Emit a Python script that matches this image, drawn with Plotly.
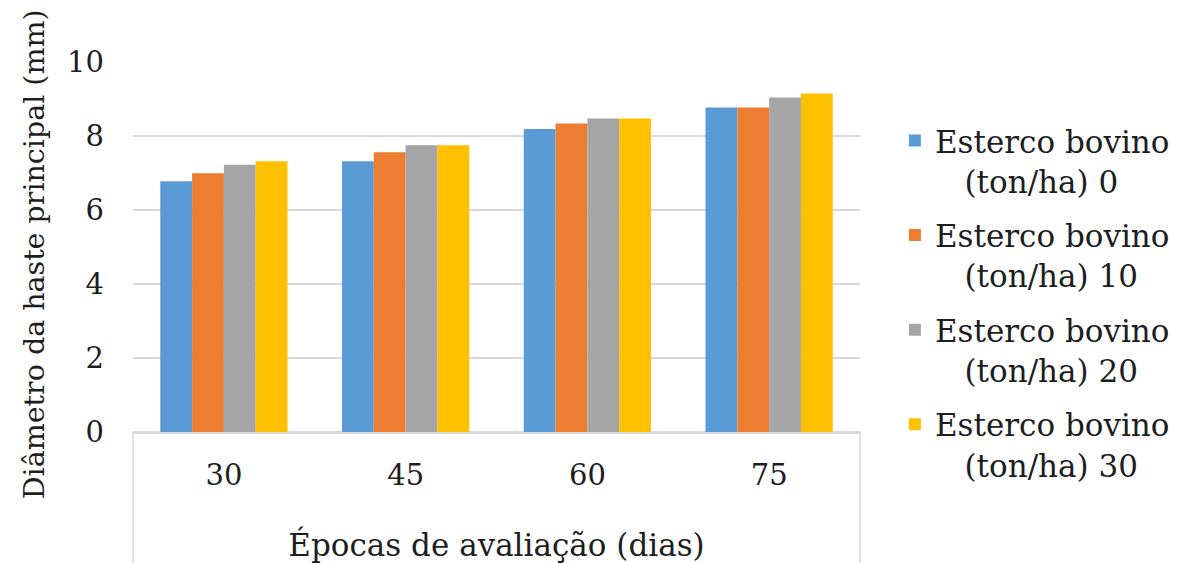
import plotly.graph_objects as go

# Épocas de avaliação (dias)
epocas = ["30", "45", "60", "75"]

# Diâmetro da haste principal (mm) por dose de esterco bovino
dose_0 = [6.78, 7.32, 8.19, 8.77]
dose_10 = [6.99, 7.56, 8.34, 8.77]
dose_20 = [7.22, 7.75, 8.47, 9.04]
dose_30 = [7.32, 7.75, 8.47, 9.15]

series_names = [
    "Esterco bovino<br>&nbsp;&nbsp;&nbsp;(ton/ha) 0",
    "Esterco bovino<br>&nbsp;&nbsp;&nbsp;(ton/ha) 10",
    "Esterco bovino<br>&nbsp;&nbsp;&nbsp;(ton/ha) 20",
    "Esterco bovino<br>&nbsp;&nbsp;&nbsp;(ton/ha) 30",
]
series_values = [dose_0, dose_10, dose_20, dose_30]
colors = ["#5B9BD5", "#ED7D31", "#A5A5A5", "#FFC000"]

serif = "DejaVu Serif"
text_color = "#1e1e1e"
grid_color = "#D9D9D9"

fig = go.Figure()
for i, (name, vals, col) in enumerate(zip(series_names, series_values, colors)):
    fig.add_trace(go.Bar(x=epocas, y=vals, name=name, marker_color=col,
                         marker_line_width=0, legendgroup=f"g{i}"))

fig.update_layout(
    width=1187, height=563,
    margin=dict(l=133, r=327, t=62, b=131),
    paper_bgcolor="white", plot_bgcolor="white",
    barmode="group", bargap=0.3, bargroupgap=0,
    font=dict(family=serif, color=text_color, size=28),
    legend=dict(
        x=1.048, xanchor="left", y=0.86, yanchor="top",
        font=dict(family=serif, size=31, color=text_color),
        valign="top", tracegroupgap=11, maxheight=560,
        bgcolor="rgba(0,0,0,0)",
    ),
    showlegend=True,
)

fig.update_xaxes(
    automargin=False,
    showgrid=False, showline=True, linecolor=grid_color, linewidth=1.5,
    ticks="", tickfont=dict(family=serif, size=29), ticklabelstandoff=16,
    title=dict(text="Épocas de avaliação (dias)",
               font=dict(family=serif, size=31), standoff=44),
)
fig.update_yaxes(
    automargin=False,
    range=[0, 10], dtick=2, showgrid=True, gridcolor=grid_color, gridwidth=1.5,
    showline=False, zeroline=True, zerolinecolor=grid_color, zerolinewidth=1.5,
    tickfont=dict(family=serif, size=29), ticklabelstandoff=28,
)

# Título do eixo vertical, centrado na altura do texto completo
fig.add_annotation(
    text="Diâmetro da haste principal (mm)", textangle=-90,
    xref="paper", yref="paper", x=-0.135, y=0.48,
    xanchor="center", yanchor="middle", showarrow=False,
    font=dict(family=serif, size=28.5, color=text_color),
)

# Divisórias verticais da área de rótulos do eixo de categorias
for xpos in (0, 1):
    fig.add_shape(type="line", xref="x domain", yref="paper",
                  x0=xpos, x1=xpos, y0=0, y1=-0.36,
                  line=dict(color=grid_color, width=1.5))

fig.write_html("out.html")
